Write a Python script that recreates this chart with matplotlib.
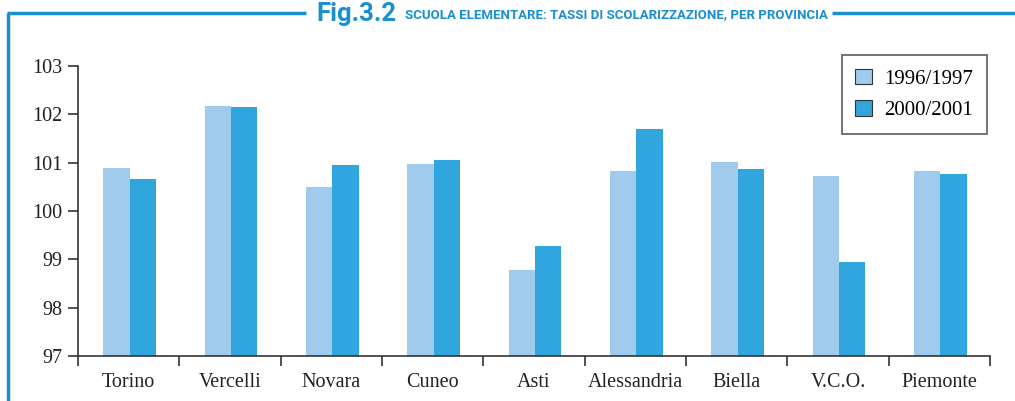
import numpy as np
import matplotlib.pyplot as plt
from matplotlib.lines import Line2D

province = ["Torino", "Vercelli", "Novara", "Cuneo", "Asti", "Alessandria",
            "Biella", "V.C.O.", "Piemonte"]
anno_1996 = [100.89, 102.18, 100.50, 100.97, 98.78, 100.83, 101.01, 100.72, 100.83]
anno_2000 = [100.66, 102.15, 100.95, 101.05, 99.28, 101.70, 100.87, 98.94, 100.77]
etichette = ["1996/1997", "2000/2001"]

chiaro = "#a0cbec"
scuro = "#30a5de"
blu = "#1a8fd0"
serif = ["Liberation Serif", "DejaVu Serif"]
sans = ["Roboto", "DejaVu Sans"]

fig = plt.figure(figsize=(10.15, 4.01), dpi=100)
ax = fig.add_axes([78 / 1015, 1 - 356 / 401, 912 / 1015, 290 / 401])

x = np.arange(len(province))
w = 0.26
ax.bar(x - w / 2 + 0.01, anno_1996, w, bottom=0, color=chiaro, label=etichette[0])
ax.bar(x + w / 2 + 0.01, anno_2000, w, bottom=0, color=scuro, label=etichette[1])

ax.set_ylim(97, 103)
ax.set_xlim(-0.5, len(province) - 0.5)
ax.set_yticks(range(97, 104))
ax.set_xticks(x)
ax.set_xticklabels(province, fontfamily=serif, fontsize=14.5, color="#222222")
ax.set_xticks(np.arange(len(province) + 1) - 0.5, minor=True)
ax.tick_params(axis="x", which="major", length=0, pad=12)
ax.tick_params(axis="x", which="minor", length=7, width=1.2, color="#333333")
ax.tick_params(axis="y", length=7, width=1.2, color="#333333", pad=4)
for lab in ax.get_yticklabels():
    lab.set_fontfamily(serif)
    lab.set_fontsize(14.5)
    lab.set_color("#222222")

for s in ["top", "right"]:
    ax.spines[s].set_visible(False)
for s in ["left", "bottom"]:
    ax.spines[s].set_color("#333333")
    ax.spines[s].set_linewidth(1.2)

leg = ax.legend(loc="upper right", bbox_to_anchor=(987 / 1015, 1 - 55 / 401),
                bbox_transform=fig.transFigure, prop={"family": serif, "size": 15},
                fancybox=False, edgecolor="#333333", handlelength=0.8,
                handleheight=0.8, handletextpad=0.6, borderpad=0.65,
                labelspacing=0.55, borderaxespad=0)
leg.get_frame().set_linewidth(1.2)
for h in leg.legend_handles:
    h.set_edgecolor("#333333")
    h.set_linewidth(0.8)

# cornice e titolo
fig.add_artist(Line2D([8 / 1015, 8 / 1015], [0, 1 - 13 / 401], color=blu, lw=2.5,
                      transform=fig.transFigure, solid_capstyle="butt"))
fig.add_artist(Line2D([7 / 1015, 306 / 1015], [1 - 13 / 401, 1 - 13 / 401], color=blu,
                      lw=2.5, transform=fig.transFigure, solid_capstyle="butt"))
fig.add_artist(Line2D([832 / 1015, 1], [1 - 13 / 401, 1 - 13 / 401], color=blu,
                      lw=2.5, transform=fig.transFigure, solid_capstyle="butt"))

t1 = fig.text(316 / 1015, 1 - 14 / 401, "Fig.3.2", family=sans, fontsize=17,
              fontweight="bold", color=blu, va="center", ha="left")
t2 = fig.text(405 / 1015, 1 - 15 / 401,
              "SCUOLA ELEMENTARE: TASSI DI SCOLARIZZAZIONE, PER PROVINCIA",
              family=sans, fontsize=10.5, fontweight="bold", color=blu,
              va="center", ha="left")

# adatta la larghezza dei testi allo spazio del titolo
r = fig.canvas.get_renderer()
for t, larg in [(t1, 80), (t2, 422)]:
    wpx = t.get_window_extent(r).width
    t.set_fontsize(t.get_fontsize() * larg / wpx)

plt.savefig("out.png", dpi=100)
